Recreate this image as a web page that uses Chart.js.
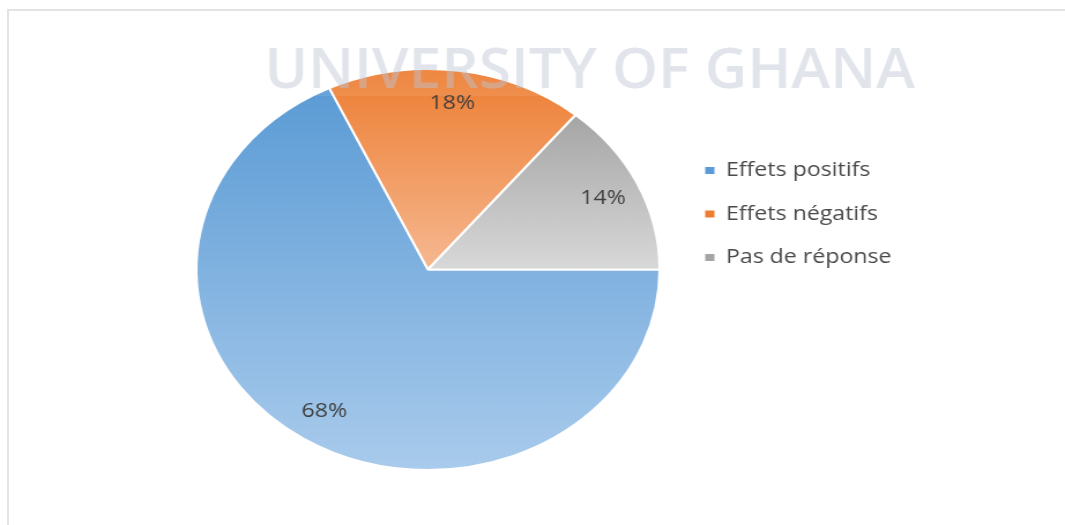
<!DOCTYPE html>
<html>
<head>
<meta charset="utf-8">
<script src="https://cdn.jsdelivr.net/npm/chart.js@4.4.1/dist/chart.umd.min.js"></script>
<style>
    html, body { margin: 0; padding: 0; background: #fff; }
    #frame {
        position: absolute; left: 7px; top: 9px; width: 1058px; height: 516px;
        border-left: 2px solid #e3e3e3; border-top: 2px solid #e3e3e3; box-sizing: border-box;
    }
    #pie { position: absolute; left: 0; top: 0; }
</style>
</head>
<body>
<div id="frame"></div>
<!-- le graphique d'origine est étiré horizontalement : canvas 922 px affiché sur 1065 px -->
<canvas id="pie" width="922" height="525" style="width:1065px;height:525px"></canvas>
<script>
var categories = ['Effets positifs', 'Effets négatifs', 'Pas de réponse'];
var shares = [68, 18, 14];
var watermark = 'UNIVERSITY OF GHANA';

var topColors = ['#5b9bd5', '#ed7d31', '#a5a5a5'];
var bottomColors = ['#a9cbec', '#f6b891', '#d8d8d8'];
var ROTATION = 90;

var LEGEND_FONT = '20px "Open Sans"';
var LEGEND_PAD = 23.5;
var LEGEND_LEFT = 587;

Chart.defaults.font.family = '"Open Sans", sans-serif';

// largeur naturelle de la légende pour placer la zone du graphique
function legendWidth() {
    var c = document.createElement('canvas').getContext('2d');
    c.font = LEGEND_FONT;
    var widest = 0;
    categories.forEach(function (t) { widest = Math.max(widest, c.measureText(t).width); });
    return LEGEND_PAD + 8 + 10 + widest + 10;
}

// dégradé vertical par part, calé sur l'étendue verticale de la part
function sliceGradient(ctx) {
    var chart = ctx.chart, area = chart.chartArea, i = ctx.dataIndex;
    if (!area || i === undefined) return topColors[i || 0];
    var cx = (area.left + area.right) / 2, cy = (area.top + area.bottom) / 2;
    var r = Math.min(area.right - area.left, area.bottom - area.top) / 2;
    var total = shares.reduce(function (a, b) { return a + b; }, 0);
    var before = 0;
    for (var j = 0; j < i; j++) before += shares[j];
    var start = -Math.PI / 2 + ROTATION * Math.PI / 180;
    var a0 = start + before / total * 2 * Math.PI;
    var a1 = a0 + shares[i] / total * 2 * Math.PI;
    var ys = [cy, cy + r * Math.sin(a0), cy + r * Math.sin(a1)];
    [Math.PI / 2, -Math.PI / 2].forEach(function (t) {
        for (var k = -1; k <= 2; k++) {
            var a = t + 2 * Math.PI * k;
            if (a > a0 && a < a1) ys.push(cy + r * Math.sin(a));
        }
    });
    var g = chart.ctx.createLinearGradient(0, Math.min.apply(null, ys), 0, Math.max.apply(null, ys));
    g.addColorStop(0, topColors[i]);
    g.addColorStop(1, bottomColors[i]);
    return g;
}

var sliceLabels = {
    id: 'sliceLabels',
    afterDatasetsDraw: function (chart) {
        var meta = chart.getDatasetMeta(0);
        var c = chart.ctx;
        c.save();
        c.font = '20px "Open Sans"';
        c.fillStyle = '#404040';
        c.textAlign = 'center';
        c.textBaseline = 'middle';
        meta.data.forEach(function (arc, i) {
            var p = arc.getProps(['x', 'y', 'startAngle', 'endAngle', 'outerRadius'], true);
            var mid = (p.startAngle + p.endAngle) / 2;
            var d = p.outerRadius * 0.835;
            c.fillText(shares[i] + '%', p.x + Math.cos(mid) * d, p.y + Math.sin(mid) * d);
        });
        c.restore();
    }
};

var watermarkPlugin = {
    id: 'watermark',
    afterDraw: function (chart) {
        var c = chart.ctx;
        c.save();
        c.fillStyle = 'rgba(255,255,255,0.08)';
        c.fillRect(208, 14, 600, 82);
        c.font = '600 56px "Open Sans"';
        var w = c.measureText(watermark).width;
        c.translate(510.5, 88);
        c.scale(563 / w, 1);
        c.fillStyle = 'rgba(188,196,210,0.45)';
        c.textAlign = 'center';
        c.textBaseline = 'alphabetic';
        c.fillText(watermark, 0, 0);
        c.restore();
    }
};

new Chart(document.getElementById('pie'), {
    type: 'pie',
    data: {
        labels: categories,
        datasets: [{
            data: shares,
            backgroundColor: sliceGradient,
            borderColor: '#ffffff',
            borderWidth: 2,
            rotation: ROTATION
        }]
    },
    options: {
        responsive: false,
        animation: false,
        rotation: ROTATION,
        layout: { padding: { left: 154, right: 922 - LEGEND_LEFT - legendWidth(), top: 68, bottom: 54 } },
        plugins: {
            tooltip: { enabled: false },
            legend: {
                position: 'right',
                align: 'start',
                title: { display: true, text: '', font: { size: 12, lineHeight: 1 }, padding: { top: 0, bottom: 57 } },
                labels: {
                    boxWidth: 8,
                    boxHeight: 7,
                    padding: LEGEND_PAD,
                    color: '#4a4a4a',
                    font: { size: 20 },
                    generateLabels: function (chart) {
                        var items = Chart.overrides.pie.plugins.legend.labels.generateLabels(chart);
                        items.forEach(function (it, i) {
                            it.fillStyle = topColors[i];
                            it.strokeStyle = topColors[i];
                            it.lineWidth = 0;
                        });
                        return items;
                    }
                }
            }
        }
    },
    plugins: [sliceLabels, watermarkPlugin]
});
</script>
</body>
</html>
